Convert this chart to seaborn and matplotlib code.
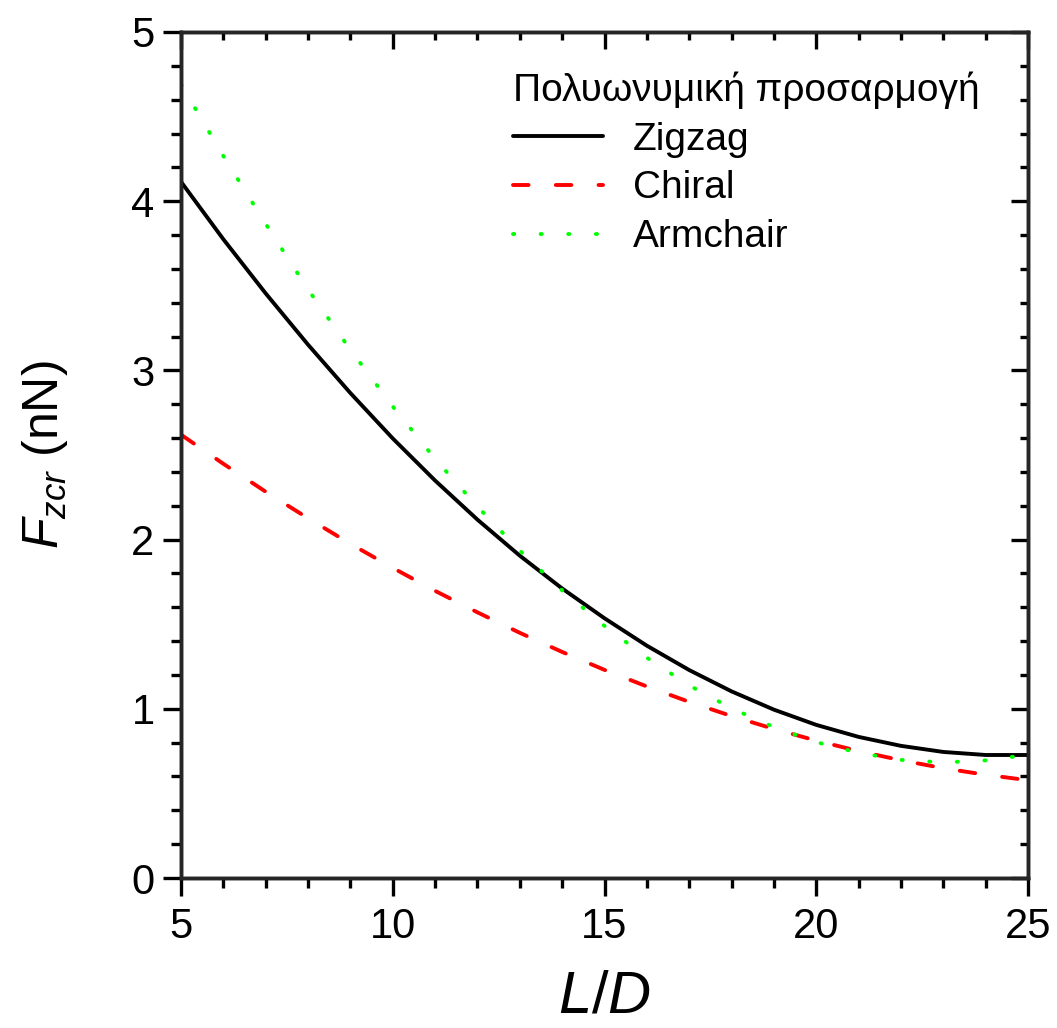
import numpy as np
import pandas as pd
import matplotlib
matplotlib.use("Agg")
import matplotlib.pyplot as plt
from matplotlib.ticker import MultipleLocator
import seaborn as sns

# L/D values and fitted critical load F_zcr (nN) for each nanotube type
ld = [5, 6, 7, 8, 9, 10, 11, 12, 13, 14, 15, 16, 17, 18, 19, 20, 21, 22, 23, 24, 25]
zigzag = [4.115, 3.775, 3.455, 3.152, 2.866, 2.598, 2.349, 2.118, 1.905, 1.711, 1.535,
          1.373, 1.229, 1.103, 0.995, 0.905, 0.834, 0.781, 0.745, 0.727, 0.727]
chiral = [2.620, 2.448, 2.283, 2.126, 1.975, 1.833, 1.697, 1.570, 1.449, 1.336, 1.230,
          1.132, 1.041, 0.957, 0.881, 0.812, 0.750, 0.696, 0.649, 0.610, 0.578]
armchair = [4.69, 4.267, 3.866, 3.478, 3.122, 2.787, 2.477, 2.195, 1.935, 1.700, 1.490,
            1.302, 1.138, 1.003, 0.892, 0.803, 0.740, 0.698, 0.683, 0.695, 0.728]

series_names = ["Zigzag", "Chiral", "Armchair"]
legend_title = "Πολυωνυμική προσαρμογή"

sns.set_style("white")
plt.rcParams["font.family"] = ["Liberation Sans", "DejaVu Sans"]
plt.rcParams["mathtext.fontset"] = "custom"
plt.rcParams["mathtext.rm"] = "Liberation Sans"
plt.rcParams["mathtext.it"] = "Liberation Sans:italic"
plt.rcParams["text.color"] = "black"
plt.rcParams["axes.labelcolor"] = "black"
plt.rcParams["xtick.color"] = "black"
plt.rcParams["ytick.color"] = "black"

W, H = 1057, 1028
fig = plt.figure(figsize=(W / 100, H / 100), dpi=100)
ax = fig.add_axes([181 / W, 1 - 878 / H, (1028 - 181) / W, (878 - 32) / H])

lw = 2.8
spine_w = 2.4
styles = {
    "Zigzag": dict(color="black", linestyle="-"),
    "Chiral": dict(color="#ff0000", linestyle=(0, (4.0, 7.0)), dash_capstyle="round"),
    "Armchair": dict(color="#00ff00", linestyle=(0, (0.3, 6.8)), dash_capstyle="round"),
}
for name, vals in zip(series_names, [zigzag, chiral, armchair]):
    df = pd.DataFrame({"L/D": ld, "F": vals})
    sns.lineplot(data=df, x="L/D", y="F", ax=ax, label=name, **styles[name])
for line in ax.get_lines():
    line.set_linewidth(lw)

ax.set_xlim(5, 25)
ax.set_ylim(0, 5)
ax.xaxis.set_major_locator(MultipleLocator(5))
ax.xaxis.set_minor_locator(MultipleLocator(1))
ax.yaxis.set_major_locator(MultipleLocator(1))
ax.yaxis.set_minor_locator(MultipleLocator(0.2))
for sp in ax.spines.values():
    sp.set_linewidth(spine_w)
    sp.set_color("black")

ax.tick_params(which="both", direction="out", width=spine_w, color="black",
               top=False, right=False, labelsize=30, labelcolor="black")
ax.tick_params(which="major", length=13)
ax.tick_params(which="minor", length=7)
ax.tick_params(axis="x", which="major", pad=8)
ax.tick_params(axis="y", which="major", pad=6)

# Mirror ticks pointing inward on the top and right edges
axr = ax.twinx()
axr.set_ylim(0, 5)
axr.yaxis.set_major_locator(MultipleLocator(1))
axr.yaxis.set_minor_locator(MultipleLocator(0.2))
axr.tick_params(which="both", direction="in", width=spine_w, labelright=False)
axr.tick_params(which="major", length=12)
axr.tick_params(which="minor", length=6)
axt = ax.twiny()
axt.set_xlim(5, 25)
axt.xaxis.set_major_locator(MultipleLocator(5))
axt.xaxis.set_minor_locator(MultipleLocator(1))
axt.tick_params(which="both", direction="in", width=spine_w, labeltop=False)
axt.tick_params(which="major", length=12)
axt.tick_params(which="minor", length=6)
for a in (axr, axt):
    for sp in a.spines.values():
        sp.set_linewidth(spine_w)
    a.grid(False)

ax.set_xlabel(r"$\mathit{L}/\mathit{D}$", fontsize=43, labelpad=16)
ax.set_ylabel(r"$\mathit{F}_{\mathit{zcr}}$ (nN)", fontsize=36, labelpad=44)

leg = ax.legend(loc="upper left", bbox_to_anchor=(0.374, 0.972), frameon=False,
                title=legend_title, title_fontsize=28, fontsize=28,
                handlelength=2.3, handletextpad=0.77, labelspacing=0.33,
                alignment="left", borderaxespad=0)
for h in leg.legend_handles:
    h.set_linewidth(lw)

fig.savefig("out.png", dpi=100)
